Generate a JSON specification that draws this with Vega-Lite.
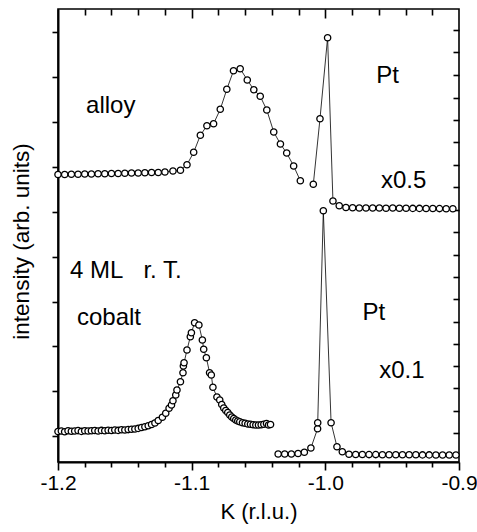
{
  "$schema": "https://vega.github.io/schema/vega-lite/v6.json",
  "width": 401,
  "height": 453,
  "autosize": "none",
  "padding": {"left": 58, "top": 9, "right": 18, "bottom": 70},
  "config": {
    "font": "Liberation Sans",
    "view": {"stroke": "black", "strokeWidth": 1.6},
    "axis": {"tickColor": "black", "tickWidth": 1.6, "domainColor": "black", "labelColor": "black", "titleColor": "black", "grid": false}
  },
  "datasets": {
    "scan": [
      {"series": "alloy", "K": -1.2, "I": 287.5},
      {"series": "alloy", "K": -1.195, "I": 287.5},
      {"series": "alloy", "K": -1.19, "I": 287.7},
      {"series": "alloy", "K": -1.185, "I": 287.7},
      {"series": "alloy", "K": -1.18, "I": 288},
      {"series": "alloy", "K": -1.175, "I": 288},
      {"series": "alloy", "K": -1.17, "I": 288.2},
      {"series": "alloy", "K": -1.165, "I": 288.2},
      {"series": "alloy", "K": -1.16, "I": 288.5},
      {"series": "alloy", "K": -1.155, "I": 288.5},
      {"series": "alloy", "K": -1.15, "I": 288.7},
      {"series": "alloy", "K": -1.145, "I": 289},
      {"series": "alloy", "K": -1.14, "I": 289},
      {"series": "alloy", "K": -1.135, "I": 289.2},
      {"series": "alloy", "K": -1.13, "I": 289.5},
      {"series": "alloy", "K": -1.125, "I": 289.5},
      {"series": "alloy", "K": -1.12, "I": 290},
      {"series": "alloy", "K": -1.114, "I": 291},
      {"series": "alloy", "K": -1.1084, "I": 291.7},
      {"series": "alloy", "K": -1.1035, "I": 297.3},
      {"series": "alloy", "K": -1.0985, "I": 309.7},
      {"series": "alloy", "K": -1.0935, "I": 326.7},
      {"series": "alloy", "K": -1.0886, "I": 336.3},
      {"series": "alloy", "K": -1.0836, "I": 338.3},
      {"series": "alloy", "K": -1.0786, "I": 352.7},
      {"series": "alloy", "K": -1.0737, "I": 372.7},
      {"series": "alloy", "K": -1.0687, "I": 391.3},
      {"series": "alloy", "K": -1.0637, "I": 393.3},
      {"series": "alloy", "K": -1.0584, "I": 382},
      {"series": "alloy", "K": -1.0535, "I": 372.3},
      {"series": "alloy", "K": -1.0487, "I": 365.7},
      {"series": "alloy", "K": -1.0438, "I": 352},
      {"series": "alloy", "K": -1.0386, "I": 330},
      {"series": "alloy", "K": -1.0336, "I": 318},
      {"series": "alloy", "K": -1.0289, "I": 309},
      {"series": "alloy", "K": -1.0237, "I": 296},
      {"series": "alloy", "K": -1.0187, "I": 281.3},
      {"series": "Pt x0.5", "K": -1.009, "I": 277.7},
      {"series": "Pt x0.5", "K": -1.004, "I": 343.3},
      {"series": "Pt x0.5", "K": -0.9983, "I": 424.3},
      {"series": "Pt x0.5", "K": -0.9943, "I": 261},
      {"series": "Pt x0.5", "K": -0.9896, "I": 256.3},
      {"series": "Pt x0.5", "K": -0.9846, "I": 254.5},
      {"series": "Pt x0.5", "K": -0.9796, "I": 254.2},
      {"series": "Pt x0.5", "K": -0.9746, "I": 254},
      {"series": "Pt x0.5", "K": -0.9696, "I": 254},
      {"series": "Pt x0.5", "K": -0.9646, "I": 254},
      {"series": "Pt x0.5", "K": -0.9596, "I": 254},
      {"series": "Pt x0.5", "K": -0.9546, "I": 253.8},
      {"series": "Pt x0.5", "K": -0.9496, "I": 254},
      {"series": "Pt x0.5", "K": -0.9446, "I": 253.8},
      {"series": "Pt x0.5", "K": -0.9396, "I": 253.8},
      {"series": "Pt x0.5", "K": -0.9346, "I": 253.6},
      {"series": "Pt x0.5", "K": -0.9296, "I": 253.6},
      {"series": "Pt x0.5", "K": -0.9246, "I": 253.5},
      {"series": "Pt x0.5", "K": -0.9196, "I": 253.5},
      {"series": "Pt x0.5", "K": -0.9146, "I": 253.4},
      {"series": "Pt x0.5", "K": -0.9096, "I": 253.3},
      {"series": "Pt x0.5", "K": -0.9046, "I": 253.3},
      {"series": "cobalt", "K": -1.2, "I": 30.5},
      {"series": "cobalt", "K": -1.1975, "I": 31},
      {"series": "cobalt", "K": -1.195, "I": 30.3},
      {"series": "cobalt", "K": -1.1925, "I": 31.2},
      {"series": "cobalt", "K": -1.19, "I": 30.8},
      {"series": "cobalt", "K": -1.1875, "I": 31},
      {"series": "cobalt", "K": -1.185, "I": 31.4},
      {"series": "cobalt", "K": -1.1825, "I": 30.6},
      {"series": "cobalt", "K": -1.18, "I": 31.2},
      {"series": "cobalt", "K": -1.1775, "I": 31},
      {"series": "cobalt", "K": -1.175, "I": 31.3},
      {"series": "cobalt", "K": -1.1725, "I": 31.5},
      {"series": "cobalt", "K": -1.17, "I": 31},
      {"series": "cobalt", "K": -1.1675, "I": 31.6},
      {"series": "cobalt", "K": -1.165, "I": 31.2},
      {"series": "cobalt", "K": -1.1625, "I": 31.7},
      {"series": "cobalt", "K": -1.16, "I": 31.5},
      {"series": "cobalt", "K": -1.1575, "I": 32},
      {"series": "cobalt", "K": -1.155, "I": 31.6},
      {"series": "cobalt", "K": -1.1525, "I": 32.2},
      {"series": "cobalt", "K": -1.15, "I": 32},
      {"series": "cobalt", "K": -1.1475, "I": 32.4},
      {"series": "cobalt", "K": -1.145, "I": 32.8},
      {"series": "cobalt", "K": -1.1425, "I": 33},
      {"series": "cobalt", "K": -1.14, "I": 33.6},
      {"series": "cobalt", "K": -1.1375, "I": 34.5},
      {"series": "cobalt", "K": -1.135, "I": 35.3},
      {"series": "cobalt", "K": -1.1325, "I": 36.3},
      {"series": "cobalt", "K": -1.13, "I": 37.5},
      {"series": "cobalt", "K": -1.1275, "I": 39},
      {"series": "cobalt", "K": -1.125, "I": 41.5},
      {"series": "cobalt", "K": -1.1219, "I": 44.7},
      {"series": "cobalt", "K": -1.1194, "I": 48.7},
      {"series": "cobalt", "K": -1.1169, "I": 53.7},
      {"series": "cobalt", "K": -1.1151, "I": 57},
      {"series": "cobalt", "K": -1.114, "I": 61.3},
      {"series": "cobalt", "K": -1.1119, "I": 67},
      {"series": "cobalt", "K": -1.111, "I": 72},
      {"series": "cobalt", "K": -1.1084, "I": 80.3},
      {"series": "cobalt", "K": -1.1065, "I": 89.3},
      {"series": "cobalt", "K": -1.1062, "I": 96},
      {"series": "cobalt", "K": -1.1057, "I": 99.3},
      {"series": "cobalt", "K": -1.1035, "I": 112},
      {"series": "cobalt", "K": -1.101, "I": 125.3},
      {"series": "cobalt", "K": -1.1002, "I": 129.3},
      {"series": "cobalt", "K": -1.0978, "I": 139.3},
      {"series": "cobalt", "K": -1.0946, "I": 137},
      {"series": "cobalt", "K": -1.092, "I": 122},
      {"series": "cobalt", "K": -1.091, "I": 112.7},
      {"series": "cobalt", "K": -1.089, "I": 104.3},
      {"series": "cobalt", "K": -1.0866, "I": 89.3},
      {"series": "cobalt", "K": -1.0853, "I": 87},
      {"series": "cobalt", "K": -1.0841, "I": 74.7},
      {"series": "cobalt", "K": -1.0811, "I": 65},
      {"series": "cobalt", "K": -1.079, "I": 62},
      {"series": "cobalt", "K": -1.0775, "I": 57.5},
      {"series": "cobalt", "K": -1.076, "I": 54},
      {"series": "cobalt", "K": -1.0745, "I": 51.5},
      {"series": "cobalt", "K": -1.073, "I": 49.5},
      {"series": "cobalt", "K": -1.0715, "I": 47},
      {"series": "cobalt", "K": -1.07, "I": 45},
      {"series": "cobalt", "K": -1.0685, "I": 43.5},
      {"series": "cobalt", "K": -1.067, "I": 42},
      {"series": "cobalt", "K": -1.0655, "I": 41},
      {"series": "cobalt", "K": -1.064, "I": 40.3},
      {"series": "cobalt", "K": -1.062, "I": 39.3},
      {"series": "cobalt", "K": -1.06, "I": 38.7},
      {"series": "cobalt", "K": -1.058, "I": 38},
      {"series": "cobalt", "K": -1.056, "I": 37.7},
      {"series": "cobalt", "K": -1.054, "I": 37.3},
      {"series": "cobalt", "K": -1.052, "I": 37},
      {"series": "cobalt", "K": -1.05, "I": 37},
      {"series": "cobalt", "K": -1.048, "I": 37.3},
      {"series": "cobalt", "K": -1.046, "I": 37.7},
      {"series": "cobalt", "K": -1.044, "I": 38.5},
      {"series": "cobalt", "K": -1.0425, "I": 37},
      {"series": "cobalt", "K": -1.041, "I": 37.5},
      {"series": "Pt x0.1", "K": -1.0353, "I": 8},
      {"series": "Pt x0.1", "K": -1.0304, "I": 8},
      {"series": "Pt x0.1", "K": -1.0254, "I": 8},
      {"series": "Pt x0.1", "K": -1.0204, "I": 8.5},
      {"series": "Pt x0.1", "K": -1.0157, "I": 9.7},
      {"series": "Pt x0.1", "K": -1.0108, "I": 14},
      {"series": "Pt x0.1", "K": -1.0058, "I": 33.3},
      {"series": "Pt x0.1", "K": -1.0057, "I": 39.3},
      {"series": "Pt x0.1", "K": -1.0015, "I": 251.3},
      {"series": "Pt x0.1", "K": -0.9957, "I": 39.3},
      {"series": "Pt x0.1", "K": -0.9913, "I": 15.3},
      {"series": "Pt x0.1", "K": -0.9873, "I": 10.3},
      {"series": "Pt x0.1", "K": -0.9823, "I": 7.8},
      {"series": "Pt x0.1", "K": -0.9773, "I": 7.5},
      {"series": "Pt x0.1", "K": -0.9723, "I": 7.5},
      {"series": "Pt x0.1", "K": -0.9673, "I": 7.4},
      {"series": "Pt x0.1", "K": -0.9623, "I": 7.4},
      {"series": "Pt x0.1", "K": -0.9573, "I": 7.3},
      {"series": "Pt x0.1", "K": -0.9523, "I": 7.3},
      {"series": "Pt x0.1", "K": -0.9473, "I": 7.3},
      {"series": "Pt x0.1", "K": -0.9423, "I": 7.2},
      {"series": "Pt x0.1", "K": -0.9373, "I": 7.2},
      {"series": "Pt x0.1", "K": -0.9323, "I": 7.2},
      {"series": "Pt x0.1", "K": -0.9273, "I": 7.1},
      {"series": "Pt x0.1", "K": -0.9223, "I": 7.1},
      {"series": "Pt x0.1", "K": -0.9173, "I": 7},
      {"series": "Pt x0.1", "K": -0.9123, "I": 7},
      {"series": "Pt x0.1", "K": -0.9073, "I": 7},
      {"series": "Pt x0.1", "K": -0.9023, "I": 7}
    ],
    "labels": [
      {"text": "alloy", "K": -1.179, "I": 349},
      {"text": "Pt", "K": -0.962, "I": 379},
      {"text": "x0.5", "K": -0.9584, "I": 273.7},
      {"text": "4 ML\u00a0\u00a0\u00a0r. T.", "K": -1.191, "I": 184},
      {"text": "cobalt", "K": -1.1858, "I": 137},
      {"text": "Pt", "K": -0.9722, "I": 142},
      {"text": "x0.1", "K": -0.9597, "I": 83.7}
    ]
  },
  "layer": [
    {
      "data": {"name": "scan"},
      "mark": {"type": "line", "color": "black", "strokeWidth": 0.8},
      "encoding": {
        "x": {
          "field": "K", "type": "quantitative",
          "scale": {"domain": [-1.2, -0.9], "nice": false, "zero": false},
          "axis": {
            "orient": "bottom",
            "title": "K (r.l.u.)",
            "titleFontSize": 22, "titleFontWeight": "normal", "titlePadding": 8,
            "values": [-1.2, -1.1, -1.0, -0.9],
            "tickSize": 8,
            "labelExpr": "(datum.value < 0 ? '-' : '') + format(abs(datum.value), '.1f')",
            "labelFontSize": 21, "labelPadding": 2, "labelFlush": false, "labelOverlap": false,
            "domain": true, "domainWidth": 2
          }
        },
        "y": {
          "field": "I", "type": "quantitative",
          "scale": {"domain": [0, 453], "nice": false, "zero": false},
          "axis": {
            "orient": "left",
            "title": "intensity (arb. units)",
            "titleFontSize": 22.5, "titleFontWeight": "normal", "titlePadding": 18, "titleY": 232,
            "values": [26, 71, 116, 160, 205, 250, 295, 340, 385, 430],
            "tickSize": 6, "labels": false,
            "domain": true, "domainWidth": 2
          }
        },
        "detail": {"field": "series"}
      }
    },
    {
      "data": {"name": "scan"},
      "mark": {"type": "point", "shape": "circle", "filled": false, "fill": "white", "fillOpacity": 1, "stroke": "black", "strokeWidth": 1.3, "size": 40, "opacity": 1},
      "encoding": {
        "x": {
          "field": "K", "type": "quantitative",
          "axis": {
            "orient": "top", "title": null, "labels": false, "domain": false,
            "values": [-1.18, -1.16, -1.14, -1.12, -1.08, -1.06, -1.04, -1.02, -0.98, -0.96, -0.94, -0.92],
            "tickSize": -6
          }
        },
        "y": {
          "field": "I", "type": "quantitative",
          "axis": {
            "orient": "right", "title": null, "labels": false, "domain": false,
            "values": [29, 51, 74, 96, 118, 140, 163, 185, 207, 230, 252, 275, 297, 320, 342, 364, 387, 410, 432],
            "tickSize": -6
          }
        }
      }
    },
    {
      "data": {"name": "labels"},
      "transform": [{"filter": "datum.I > 226"}],
      "mark": {"type": "text", "align": "left", "baseline": "alphabetic", "fontSize": 24, "color": "black"},
      "encoding": {
        "x": {
          "field": "K", "type": "quantitative",
          "axis": {
            "orient": "top", "title": null, "labels": false, "domain": false,
            "values": [-1.1, -1.0],
            "tickSize": -9
          }
        },
        "y": {"field": "I", "type": "quantitative", "axis": null},
        "text": {"field": "text"}
      }
    },
    {
      "data": {"name": "labels"},
      "transform": [{"filter": "datum.I <= 226"}],
      "mark": {"type": "text", "align": "left", "baseline": "alphabetic", "fontSize": 24, "color": "black"},
      "encoding": {
        "x": {
          "field": "K", "type": "quantitative",
          "axis": {
            "orient": "bottom", "title": null, "labels": false, "domain": false,
            "values": [-1.18, -1.16, -1.14, -1.12, -1.08, -1.06, -1.04, -1.02, -0.98, -0.96, -0.94, -0.92],
            "tickSize": 5
          }
        },
        "y": {"field": "I", "type": "quantitative", "axis": null},
        "text": {"field": "text"}
      }
    }
  ],
  "resolve": {"axis": {"x": "independent", "y": "independent"}}
}
